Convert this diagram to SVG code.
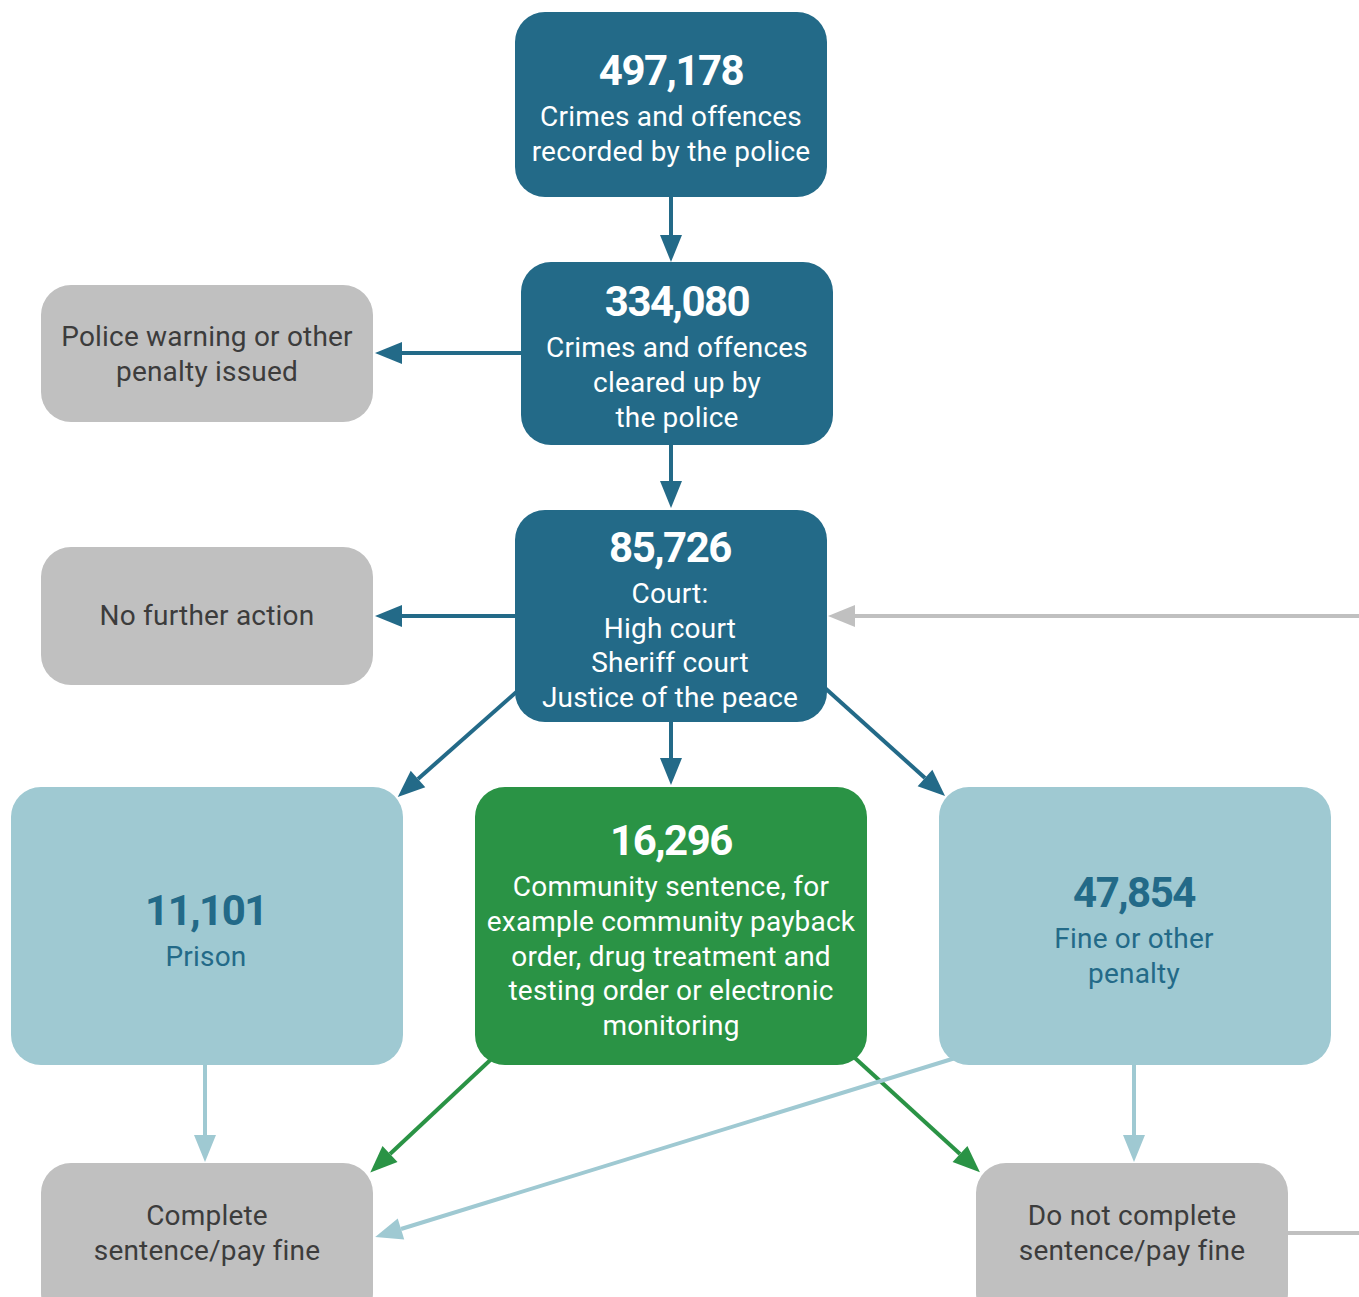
<svg xmlns="http://www.w3.org/2000/svg" width="1359" height="1297" viewBox="0 0 1359 1297">
<style>
.t{font-family:Roboto,"Liberation Sans",sans-serif;font-size:28px;letter-spacing:0.2px;text-anchor:middle}
.n{font-family:Roboto,"Liberation Sans",sans-serif;font-size:42px;font-weight:bold;text-anchor:middle;letter-spacing:-1.5px}
.w{fill:#ffffff}
.g{fill:#3c3c3c}
.b{fill:#236a88}
.dk{fill:#236a88}
.gr{fill:#c0c0c0}
.lb{fill:#9fc9d2}
.gn{fill:#2a9345}
.ed{fill:none;stroke-width:4}
.e1{stroke:#236a88}
.e2{stroke:#c0c0c0}
.e3{stroke:#9fc9d2}
.e4{stroke:#2a9345}
</style>
<defs>
<marker id="a1" markerUnits="userSpaceOnUse" orient="auto" refX="0" refY="0" markerWidth="30" markerHeight="24" overflow="visible"><path d="M0,-11 L27,0 L0,11 z" fill="#236a88"/></marker>
<marker id="a2" markerUnits="userSpaceOnUse" orient="auto" refX="0" refY="0" markerWidth="30" markerHeight="24" overflow="visible"><path d="M0,-11 L27,0 L0,11 z" fill="#c0c0c0"/></marker>
<marker id="a3" markerUnits="userSpaceOnUse" orient="auto" refX="0" refY="0" markerWidth="30" markerHeight="24" overflow="visible"><path d="M0,-11 L27,0 L0,11 z" fill="#9fc9d2"/></marker>
<marker id="a4" markerUnits="userSpaceOnUse" orient="auto" refX="0" refY="0" markerWidth="30" markerHeight="24" overflow="visible"><path d="M0,-11 L27,0 L0,11 z" fill="#2a9345"/></marker>
</defs>
<g id="connectors">
<line class="ed e1" x1="671" y1="197" x2="671" y2="235" marker-end="url(#a1)"/>
<line class="ed e1" x1="521" y1="353" x2="402" y2="353" marker-end="url(#a1)"/>
<line class="ed e1" x1="671" y1="445" x2="671" y2="481" marker-end="url(#a1)"/>
<line class="ed e1" x1="515" y1="616" x2="402" y2="616" marker-end="url(#a1)"/>
<line class="ed e2" x1="1359" y1="616" x2="855" y2="616" marker-end="url(#a2)"/>
<line class="ed e1" x1="530" y1="680" x2="418" y2="779" marker-end="url(#a1)"/>
<line class="ed e1" x1="671" y1="722" x2="671" y2="758" marker-end="url(#a1)"/>
<line class="ed e1" x1="815" y1="679" x2="925" y2="778" marker-end="url(#a1)"/>
<line class="ed e3" x1="205" y1="1065" x2="205" y2="1135" marker-end="url(#a3)"/>
<line class="ed e4" x1="501" y1="1050" x2="390" y2="1154" marker-end="url(#a4)"/>
<line class="ed e4" x1="844" y1="1048" x2="960" y2="1154" marker-end="url(#a4)"/>
<line class="ed e3" x1="965" y1="1055" x2="401" y2="1229" marker-end="url(#a3)"/>
<line class="ed e3" x1="1134" y1="1065" x2="1134" y2="1135" marker-end="url(#a3)"/>
<line class="ed e2" x1="1285" y1="1233" x2="1359" y2="1233"/>
</g>
<g id="recorded">
<rect class="dk" x="515" y="12" width="312" height="185" rx="30"/>
<text class="n w" x="671" y="85">497,178</text>
<text class="t w" x="671" y="126">Crimes and offences</text>
<text class="t w" x="671" y="161">recorded by the police</text>
</g>
<g id="cleared">
<rect class="dk" x="521" y="262" width="312" height="183" rx="30"/>
<text class="n w" x="677" y="316">334,080</text>
<text class="t w" x="677" y="357">Crimes and offences</text>
<text class="t w" x="677" y="392">cleared up by</text>
<text class="t w" x="677" y="427">the police</text>
</g>
<g id="warning">
<rect class="gr" x="41" y="285" width="332" height="137" rx="30"/>
<text class="t g" x="207" y="346">Police warning or other</text>
<text class="t g" x="207" y="381">penalty issued</text>
</g>
<g id="court">
<rect class="dk" x="515" y="510" width="312" height="212" rx="30"/>
<text class="n w" x="670" y="562">85,726</text>
<text class="t w" x="670" y="603">Court:</text>
<text class="t w" x="670" y="638">High court</text>
<text class="t w" x="670" y="672">Sheriff court</text>
<text class="t w" x="670" y="707">Justice of the peace</text>
</g>
<g id="nfa">
<rect class="gr" x="41" y="547" width="332" height="138" rx="30"/>
<text class="t g" x="207" y="625">No further action</text>
</g>
<g id="prison">
<rect class="lb" x="11" y="787" width="392" height="278" rx="30"/>
<text class="n b" x="206" y="925">11,101</text>
<text class="t b" x="206" y="966">Prison</text>
</g>
<g id="community">
<rect class="gn" x="475" y="787" width="392" height="278" rx="30"/>
<text class="n w" x="671" y="855">16,296</text>
<text class="t w" x="671" y="896">Community sentence, for</text>
<text class="t w" x="671" y="931">example community payback</text>
<text class="t w" x="671" y="966">order, drug treatment and</text>
<text class="t w" x="671" y="1000">testing order or electronic</text>
<text class="t w" x="671" y="1035">monitoring</text>
</g>
<g id="fine">
<rect class="lb" x="939" y="787" width="392" height="278" rx="30"/>
<text class="n b" x="1134" y="907">47,854</text>
<text class="t b" x="1134" y="948">Fine or other</text>
<text class="t b" x="1134" y="983">penalty</text>
</g>
<g id="complete">
<rect class="gr" x="41" y="1163" width="332" height="160" rx="30"/>
<text class="t g" x="207" y="1225">Complete</text>
<text class="t g" x="207" y="1260">sentence/pay fine</text>
</g>
<g id="notcomplete">
<rect class="gr" x="976" y="1163" width="312" height="160" rx="30"/>
<text class="t g" x="1132" y="1225">Do not complete</text>
<text class="t g" x="1132" y="1260">sentence/pay fine</text>
</g>
</svg>
